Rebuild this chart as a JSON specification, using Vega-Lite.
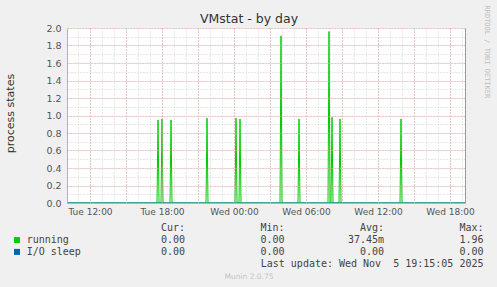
{
  "$schema": "https://vega.github.io/schema/vega-lite/v6.json",
  "width": 398,
  "height": 175,
  "autosize": {"type": "none"},
  "padding": {"left": 67, "top": 28, "right": 32, "bottom": 84},
  "background": "#f0f0f0",
  "view": {"fill": "white", "stroke": null},
  "datasets": {
    "series": [
      {"series": "I/O sleep", "time": "2025-11-04T10:05:00Z", "value": 0},
      {"series": "I/O sleep", "time": "2025-11-05T19:15:00Z", "value": 0},
      {"series": "running", "time": "2025-11-04T10:05:00Z", "value": 0},
      {"series": "running", "time": "2025-11-04T17:35:00Z", "value": 0},
      {"series": "running", "time": "2025-11-04T17:40:00Z", "value": 0.95},
      {"series": "running", "time": "2025-11-04T17:45:00Z", "value": 0},
      {"series": "running", "time": "2025-11-04T17:55:00Z", "value": 0},
      {"series": "running", "time": "2025-11-04T18:00:00Z", "value": 0.96},
      {"series": "running", "time": "2025-11-04T18:05:00Z", "value": 0},
      {"series": "running", "time": "2025-11-04T18:40:00Z", "value": 0},
      {"series": "running", "time": "2025-11-04T18:45:00Z", "value": 0.95},
      {"series": "running", "time": "2025-11-04T18:50:00Z", "value": 0},
      {"series": "running", "time": "2025-11-04T21:40:00Z", "value": 0},
      {"series": "running", "time": "2025-11-04T21:45:00Z", "value": 0.97},
      {"series": "running", "time": "2025-11-04T21:50:00Z", "value": 0},
      {"series": "running", "time": "2025-11-05T00:05:00Z", "value": 0},
      {"series": "running", "time": "2025-11-05T00:10:00Z", "value": 0.97},
      {"series": "running", "time": "2025-11-05T00:15:00Z", "value": 0},
      {"series": "running", "time": "2025-11-05T00:25:00Z", "value": 0},
      {"series": "running", "time": "2025-11-05T00:30:00Z", "value": 0.96},
      {"series": "running", "time": "2025-11-05T00:35:00Z", "value": 0},
      {"series": "running", "time": "2025-11-05T03:50:00Z", "value": 0},
      {"series": "running", "time": "2025-11-05T03:55:00Z", "value": 1.91},
      {"series": "running", "time": "2025-11-05T04:00:00Z", "value": 0},
      {"series": "running", "time": "2025-11-05T05:20:00Z", "value": 0},
      {"series": "running", "time": "2025-11-05T05:25:00Z", "value": 0.96},
      {"series": "running", "time": "2025-11-05T05:30:00Z", "value": 0},
      {"series": "running", "time": "2025-11-05T07:50:00Z", "value": 0},
      {"series": "running", "time": "2025-11-05T07:55:00Z", "value": 1.96},
      {"series": "running", "time": "2025-11-05T08:00:00Z", "value": 0},
      {"series": "running", "time": "2025-11-05T08:05:00Z", "value": 0},
      {"series": "running", "time": "2025-11-05T08:10:00Z", "value": 0.98},
      {"series": "running", "time": "2025-11-05T08:15:00Z", "value": 0},
      {"series": "running", "time": "2025-11-05T08:45:00Z", "value": 0},
      {"series": "running", "time": "2025-11-05T08:50:00Z", "value": 0.96},
      {"series": "running", "time": "2025-11-05T08:55:00Z", "value": 0},
      {"series": "running", "time": "2025-11-05T13:50:00Z", "value": 0},
      {"series": "running", "time": "2025-11-05T13:55:00Z", "value": 0.96},
      {"series": "running", "time": "2025-11-05T14:00:00Z", "value": 0},
      {"series": "running", "time": "2025-11-05T19:15:00Z", "value": 0}
    ],
    "table": [
      {"row": "header", "col": "Cur", "text": "Cur:\u00a0\u00a0"},
      {"row": "header", "col": "Min", "text": "Min:\u00a0\u00a0"},
      {"row": "header", "col": "Avg", "text": "Avg:\u00a0\u00a0"},
      {"row": "header", "col": "Max", "text": "Max:\u00a0\u00a0"},
      {"row": "running", "col": "name", "text": "running"},
      {"row": "running", "col": "Cur", "text": "0.00\u00a0"},
      {"row": "running", "col": "Min", "text": "0.00\u00a0"},
      {"row": "running", "col": "Avg", "text": "37.45m"},
      {"row": "running", "col": "Max", "text": "1.96\u00a0"},
      {"row": "I/O sleep", "col": "name", "text": "I/O sleep"},
      {"row": "I/O sleep", "col": "Cur", "text": "0.00\u00a0"},
      {"row": "I/O sleep", "col": "Min", "text": "0.00\u00a0"},
      {"row": "I/O sleep", "col": "Avg", "text": "0.00\u00a0"},
      {"row": "I/O sleep", "col": "Max", "text": "0.00\u00a0"},
      {"row": "update", "col": "Max", "text": "Last update: Wed Nov\u00a0 5 19:15:05 2025"}
    ]
  },
  "layer": [
    {
      "data": {"name": "series"},
      "transform": [{"filter": "datum.series == 'running'"}],
      "mark": {"type": "line", "strokeWidth": 1},
      "encoding": {
        "x": {"field": "time", "type": "temporal",
          "scale": {"type": "utc", "domain": [1762250700000, 1762370100000]},
          "axis": {"orient": "top", "grid": true, "values": [1762254000000, 1762257600000, 1762261200000, 1762264800000, 1762268400000, 1762272000000, 1762275600000, 1762279200000, 1762282800000, 1762286400000, 1762290000000, 1762293600000, 1762297200000, 1762300800000, 1762304400000, 1762308000000, 1762311600000, 1762315200000, 1762318800000, 1762322400000, 1762326000000, 1762329600000, 1762333200000, 1762336800000, 1762340400000, 1762344000000, 1762347600000, 1762351200000, 1762354800000, 1762358400000, 1762362000000, 1762365600000, 1762369200000], "gridColor": "#cfcfcf", "gridDash": [1, 2], "labels": false, "ticks": false, "domain": false, "title": "VMstat - by day", "titleX": 181.5, "titleY": -10, "titleBaseline": "middle", "titleFont": "DejaVu Sans", "titleFontSize": 12.5, "titleFontWeight": "normal", "titleColor": "#333333"}},
        "y": {"field": "value", "type": "quantitative",
          "scale": {"domain": [0, 2], "nice": false},
          "axis": {"orient": "right", "grid": true, "values": [0, 0.1, 0.2, 0.3, 0.4, 0.5, 0.6, 0.7, 0.8, 0.9, 1, 1.1, 1.2, 1.3, 1.4, 1.5, 1.6, 1.7, 1.8, 1.9, 2], "gridColor": "#cfcfcf", "gridDash": [1, 2], "labels": false, "ticks": false, "domain": true, "domainColor": "#999999", "title": "RRDTOOL / TOBI OETIKER", "titleAngle": 90, "titleX": 21, "titleY": -23, "titleAlign": "left", "titleBaseline": "middle", "titleFont": "DejaVu Sans Mono", "titleFontSize": 7, "titleFontWeight": "normal", "titleColor": "#c0c0c0"}},
        "color": {"field": "series", "type": "nominal", "scale": {"domain": ["running", "I/O sleep"], "range": ["#00cc00", "#0066b3"]}, "legend": null}
      }
    },
    {
      "data": {"name": "series"},
      "transform": [{"filter": "datum.series == 'I/O sleep'"}],
      "mark": {"type": "line", "strokeWidth": 1},
      "encoding": {
        "x": {"field": "time", "type": "temporal",
          "scale": {"type": "utc", "domain": [1762250700000, 1762370100000]},
          "axis": {"orient": "bottom", "grid": true, "values": [1762257600000, 1762268400000, 1762279200000, 1762290000000, 1762300800000, 1762311600000, 1762322400000, 1762333200000, 1762344000000, 1762354800000, 1762365600000], "gridColor": "#e5a3a3", "gridDash": [1, 2], "ticks": false, "domain": true, "domainColor": "#a3b4e6", "labelExpr": "(datum.value / 3600000) % 6 == 0 ? utcFormat(datum.value, '%a %H:%M') : ''", "labelFont": "DejaVu Sans", "labelFontSize": 9, "labelColor": "#555555", "labelPadding": 4, "labelFlush": false, "labelOverlap": false, "title": "Munin 2.0.75", "titleX": 181.5, "titleY": 73, "titleBaseline": "middle", "titleFont": "DejaVu Sans", "titleFontSize": 7.5, "titleFontWeight": "normal", "titleColor": "#c4c4c4", "zindex": 1}},
        "y": {"field": "value", "type": "quantitative",
          "scale": {"domain": [0, 2], "nice": false},
          "axis": {"orient": "left", "grid": true, "values": [0, 0.2, 0.4, 0.6, 0.8, 1, 1.2, 1.4, 1.6, 1.8, 2], "format": ".1f", "gridColor": "#e5a3a3", "gridDash": [1, 2], "ticks": false, "domain": true, "domainColor": "#a3b4e6", "labelFont": "DejaVu Sans", "labelFontSize": 9.5, "labelColor": "#555555", "labelPadding": 6, "title": "process states", "titleX": -57, "titleY": 85, "titleBaseline": "middle", "titleFont": "DejaVu Sans", "titleFontSize": 11, "titleFontWeight": "normal", "titleColor": "#333333", "zindex": 1}},
        "color": {"field": "series", "type": "nominal", "scale": {"domain": ["running", "I/O sleep"], "range": ["#00cc00", "#0066b3"]}, "legend": null}
      }
    },
    {
      "data": {"name": "table"},
      "transform": [{"filter": "datum.col != 'name'"}],
      "mark": {"type": "text", "align": "right", "baseline": "middle", "dx": 18.5, "font": "DejaVu Sans Mono", "fontSize": 10, "color": "#444444"},
      "encoding": {
        "x": {"field": "col", "type": "nominal", "scale": {"type": "point", "domain": ["name", "Cur", "Min", "Avg", "Max"], "padding": 0}, "axis": null},
        "y": {"field": "row", "type": "nominal", "scale": {"type": "point", "domain": ["header", "running", "I/O sleep", "update"], "range": [200.3, 235.7], "padding": 0}, "axis": null},
        "text": {"field": "text"}
      }
    },
    {
      "data": {"name": "table"},
      "transform": [{"filter": "datum.col == 'name'"}],
      "mark": {"type": "text", "align": "left", "baseline": "middle", "dx": -40.3, "font": "DejaVu Sans Mono", "fontSize": 10, "color": "#444444"},
      "encoding": {
        "x": {"field": "col", "type": "nominal", "scale": {"type": "point", "domain": ["name", "Cur", "Min", "Avg", "Max"], "padding": 0}, "axis": null},
        "y": {"field": "row", "type": "nominal", "scale": {"type": "point", "domain": ["header", "running", "I/O sleep", "update"], "range": [200.3, 235.7], "padding": 0}, "axis": null},
        "text": {"field": "text"}
      }
    },
    {
      "data": {"name": "table"},
      "transform": [{"filter": "datum.col == 'name'"}],
      "mark": {"type": "point", "shape": "square", "filled": true, "size": 36, "opacity": 1, "xOffset": -50},
      "encoding": {
        "x": {"field": "col", "type": "nominal", "scale": {"type": "point", "domain": ["name", "Cur", "Min", "Avg", "Max"], "padding": 0}, "axis": null},
        "y": {"field": "row", "type": "nominal", "scale": {"type": "point", "domain": ["header", "running", "I/O sleep", "update"], "range": [200.3, 235.7], "padding": 0}, "axis": null},
        "color": {"field": "row", "type": "nominal", "scale": {"domain": ["running", "I/O sleep"], "range": ["#00cc00", "#0066b3"]}, "legend": null}
      }
    }
  ],
  "resolve": {"scale": {"x": "independent", "y": "independent", "color": "independent"}}
}
